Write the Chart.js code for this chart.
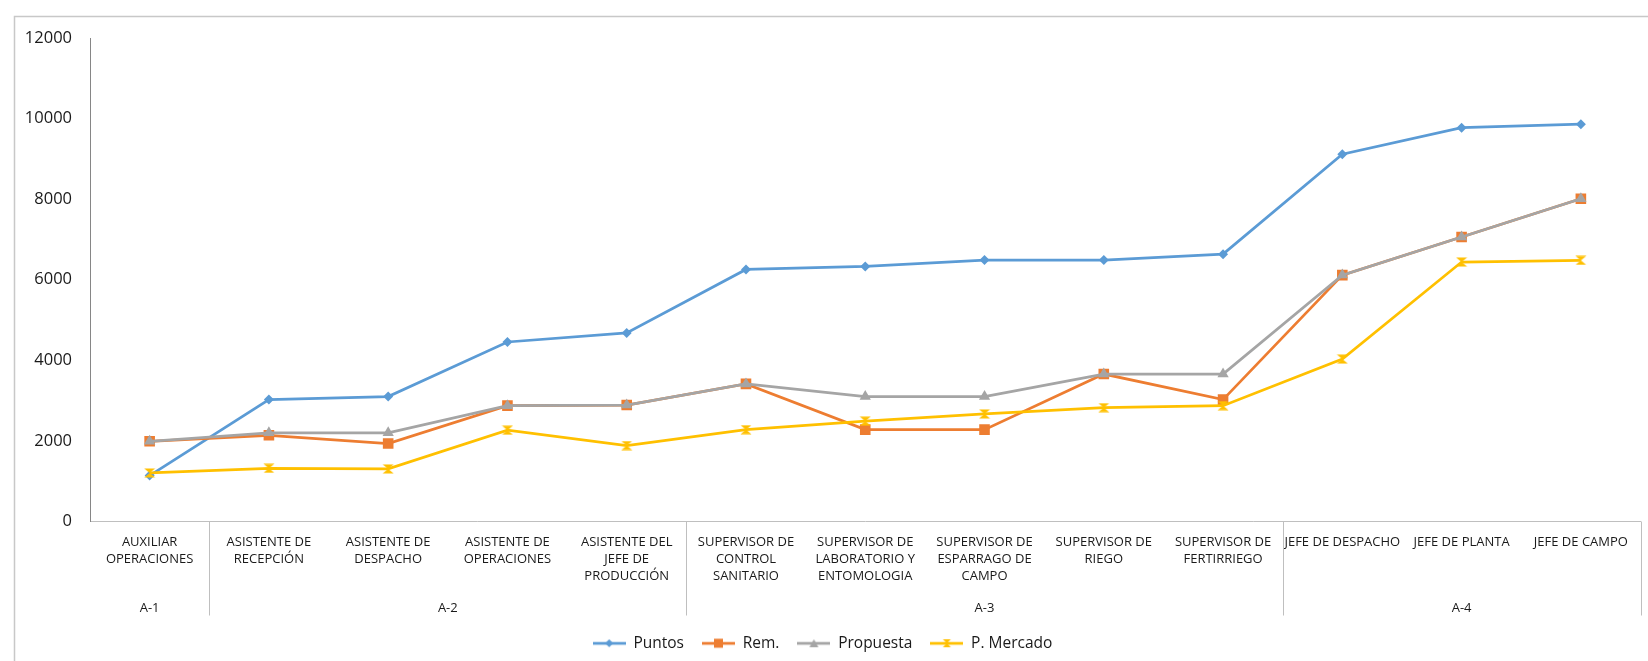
<!DOCTYPE html>
<html>
<head>
<meta charset="utf-8">
<script src="https://cdn.jsdelivr.net/npm/chart.js@4.4.1/dist/chart.umd.min.js"></script>
<style>
  html, body { margin: 0; padding: 0; background: #fff; }
  #wrap { width: 1648px; height: 661px; position: relative; }
</style>
</head>
<body>
<div id="wrap"><canvas id="chart"></canvas></div>
<script>
// ── DATA ─────────────────────────────────────────────
const categories = [
  ['AUXILIAR', 'OPERACIONES'],
  ['ASISTENTE DE', 'RECEPCIÓN'],
  ['ASISTENTE DE', 'DESPACHO'],
  ['ASISTENTE DE', 'OPERACIONES'],
  ['ASISTENTE DEL', 'JEFE DE', 'PRODUCCIÓN'],
  ['SUPERVISOR DE', 'CONTROL', 'SANITARIO'],
  ['SUPERVISOR DE', 'LABORATORIO Y', 'ENTOMOLOGIA'],
  ['SUPERVISOR DE', 'ESPARRAGO DE', 'CAMPO'],
  ['SUPERVISOR DE', 'RIEGO'],
  ['SUPERVISOR DE', 'FERTIRRIEGO'],
  ['JEFE DE DESPACHO'],
  ['JEFE DE PLANTA'],
  ['JEFE DE CAMPO']
];
const groupLabels = ['A-1', 'A-2', 'A-3', 'A-4'];
const groupSizes  = [1, 4, 5, 3];

const seriesNames = ['Puntos', 'Rem.', 'Propuesta', 'P. Mercado'];
const puntos    = [1140, 3025, 3100, 4455, 4680, 6255, 6330, 6490, 6490, 6635, 9115, 9775, 9860];
const rem       = [1990, 2140, 1935, 2875, 2890, 3415, 2280, 2280, 3660, 3025, 6115, 7060, 8010];
const propuesta = [1990, 2200, 2200, 2875, 2890, 3415, 3100, 3100, 3660, 3660, 6115, 7060, 8010];
const mercado   = [1205, 1320, 1305, 2265, 1885, 2280, 2490, 2670, 2825, 2875, 4030, 6440, 6480];

const yMin = 0, yMax = 12000, yStep = 2000;

// ── STYLE ────────────────────────────────────────────
const FONT = "'Open Sans', sans-serif";
const TEXT = '#1a1a1a';
const colors  = ['#5B9BD5', '#ED7D31', '#A5A5A5', '#FFC000'];
const markers = ['diamond', 'square', 'triangle', 'hourglass'];

function drawMarker(ctx, kind, cx, cy, rx, ry, color) {
  ctx.fillStyle = color;
  ctx.beginPath();
  if (kind === 'diamond') {
    ctx.moveTo(cx, cy - ry); ctx.lineTo(cx + rx, cy);
    ctx.lineTo(cx, cy + ry); ctx.lineTo(cx - rx, cy);
  } else if (kind === 'square') {
    ctx.rect(cx - rx, cy - ry, 2 * rx, 2 * ry);
  } else if (kind === 'triangle') {
    ctx.moveTo(cx, cy - ry); ctx.lineTo(cx + rx, cy + ry); ctx.lineTo(cx - rx, cy + ry);
  } else {
    ctx.moveTo(cx - rx, cy - ry); ctx.lineTo(cx + rx, cy - ry);
    ctx.lineTo(cx - rx, cy + ry); ctx.lineTo(cx + rx, cy + ry);
  }
  ctx.closePath();
  ctx.fill();
}

// hourglass marker for P. Mercado
const hourglass = document.createElement('canvas');
hourglass.width = 12; hourglass.height = 10;
drawMarker(hourglass.getContext('2d'), 'hourglass', 6, 5, 5.5, 4.5, colors[3]);

// legend glyphs: line with the marker in the middle
const legendIcons = colors.map((c, i) => {
  const cv = document.createElement('canvas');
  cv.width = 33; cv.height = 12;
  const g = cv.getContext('2d');
  g.strokeStyle = c; g.lineWidth = 2.75;
  g.beginPath(); g.moveTo(0, 6); g.lineTo(33, 6); g.stroke();
  const r = [4, 4.5, 4.5, 4][i];
  drawMarker(g, markers[i], 16.5, 6, r, i === 2 ? 4 : r, c);
  return cv;
});

// ── PLUGINS ──────────────────────────────────────────
const frame = {
  id: 'frame',
  beforeDraw(chart) {
    const ctx = chart.ctx;
    ctx.save();
    ctx.strokeStyle = '#C8C8C8';
    ctx.lineWidth = 1.5;
    ctx.beginPath();
    ctx.moveTo(14.5, chart.height);
    ctx.lineTo(14.5, 16.5);
    ctx.lineTo(chart.width, 16.5);
    ctx.stroke();
    ctx.restore();
  }
};

const multiLevelAxis = {
  id: 'multiLevelAxis',
  afterDraw(chart) {
    const { ctx, chartArea } = chart;
    const x = chart.scales.x;
    const n = categories.length;
    const edge = i => i === 0 ? chartArea.left : i === n ? chartArea.right
      : (x.getPixelForValue(i - 1) + x.getPixelForValue(i)) / 2;
    const base = chartArea.bottom;

    ctx.save();
    ctx.fillStyle = TEXT;
    ctx.textAlign = 'center';
    ctx.textBaseline = 'middle';
    ctx.font = `13px ${FONT}`;
    categories.forEach((lines, i) => {
      const cx = x.getPixelForValue(i);
      lines.forEach((t, k) => ctx.fillText(t, cx, base + 21 + k * 16.7));
    });

    ctx.strokeStyle = '#BFBFBF';
    ctx.lineWidth = 1;
    let start = 0;
    groupSizes.forEach((size, g) => {
      const end = start + size;
      const xe = Math.round(edge(end)) + 0.5;
      ctx.beginPath();
      ctx.moveTo(xe, base);
      ctx.lineTo(xe, base + 94);
      ctx.stroke();
      ctx.fillText(groupLabels[g], (edge(start) + edge(end)) / 2, base + 87);
      start = end;
    });
    ctx.restore();
  }
};

// ── CHART ────────────────────────────────────────────
const seriesData = [puntos, rem, propuesta, mercado];
const radii = [5, 7.5, 6.5, 5];

new Chart(document.getElementById('chart'), {
  type: 'line',
  data: {
    labels: categories,
    datasets: seriesData.map((d, i) => ({
      label: seriesNames[i],
      data: d,
      borderColor: colors[i],
      backgroundColor: colors[i],
      borderWidth: 2.75,
      pointStyle: ['rectRot', 'rect', 'triangle', hourglass][i],
      pointRadius: radii[i],
      pointBackgroundColor: colors[i],
      pointBorderColor: colors[i],
      pointBorderWidth: 0,
      tension: 0,
      fill: false,
      order: 3 - i
    }))
  },
  options: {
    responsive: true,
    maintainAspectRatio: false,
    animation: false,
    layout: { padding: { top: 38, right: 3, left: 0, bottom: 0 } },
    plugins: {
      tooltip: { enabled: false },
      legend: {
        position: 'bottom',
        labels: {
          usePointStyle: true,
          pointStyleWidth: 33,
          padding: 18,
          color: TEXT,
          font: { family: FONT, size: 15.5 },
          sort: (a, b) => a.datasetIndex - b.datasetIndex,
          generateLabels: chart => Chart.defaults.plugins.legend.labels.generateLabels(chart)
            .map(item => { item.pointStyle = legendIcons[item.datasetIndex]; return item; })
        }
      }
    },
    scales: {
      x: {
        offset: true,
        grid: { display: false },
        border: { color: '#BFBFBF', width: 1 },
        ticks: { display: false },
        afterFit: s => { s.height = 96; }
      },
      y: {
        min: yMin, max: yMax,
        ticks: {
          stepSize: yStep, padding: 10, color: TEXT,
          font: { family: FONT, size: 16.5 },
          callback: v => String(v)
        },
        grid: { display: false },
        border: { color: '#868686', width: 1 },
        afterFit: s => { s.width = 90; }
      }
    }
  },
  plugins: [frame, multiLevelAxis]
});
</script>
</body>
</html>
